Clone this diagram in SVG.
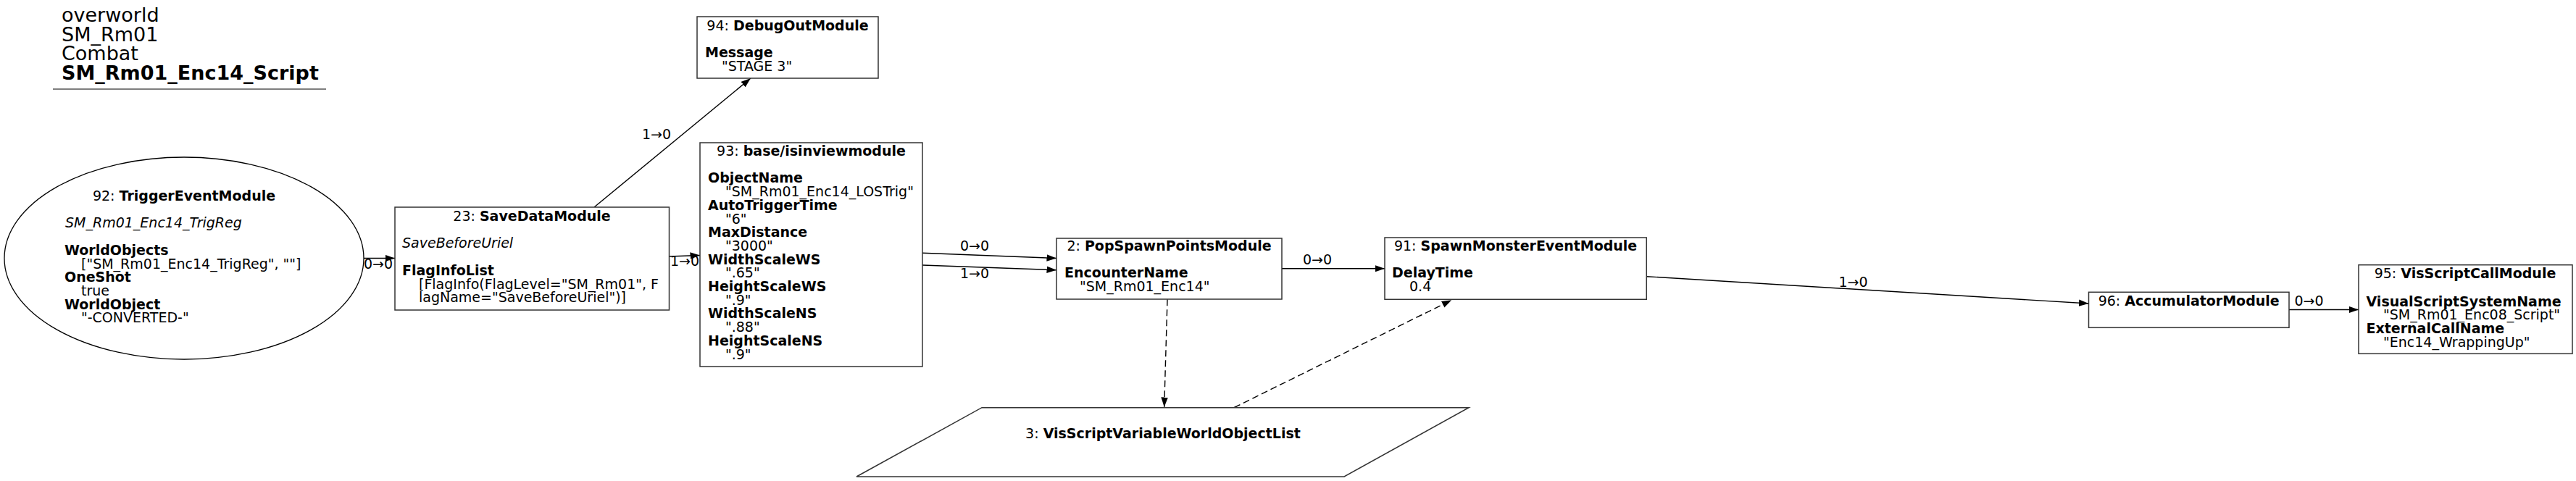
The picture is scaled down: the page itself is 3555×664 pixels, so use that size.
<svg xmlns="http://www.w3.org/2000/svg" width="3555" height="664" viewBox="0 0 3555 664">
<style>
text{font-family:"DejaVu Sans","Liberation Sans",sans-serif;font-size:19px;fill:#000}
.t{font-size:27px}
.b{font-weight:bold}
.i{font-style:italic}
.m{text-anchor:middle}
.box{fill:#fff;stroke:#333;stroke-width:1.5}
.ell{fill:#fff;stroke:#000;stroke-width:1.3}
.e{fill:none;stroke:#000;stroke-width:1.4}
.d{stroke-dasharray:9,5}
</style>
<defs>
<marker id="a" markerUnits="userSpaceOnUse" markerWidth="14" markerHeight="10" refX="13.5" refY="4.75" orient="auto">
<path d="M0,0 L13.5,4.75 L0,9.5 z" fill="#000"/>
</marker>
</defs>
<rect width="3555" height="664" fill="#fff"/>
<g id="title">
<text class="t" x="85" y="30">overworld</text>
<text class="t" x="85" y="57">SM_Rm01</text>
<text class="t" x="85" y="83">Combat</text>
<text class="t b" x="85" y="110">SM_Rm01_Enc14_Script</text>
<line x1="73" y1="123" x2="450" y2="123" stroke="#555" stroke-width="1.5"/>
</g>
<g id="connectors">
<line class="e" x1="502" y1="356.5" x2="545" y2="356.5" marker-end="url(#a)"/>
<text x="502" y="370.5">0→0</text>
<line class="e" x1="820" y1="286" x2="1036" y2="108" marker-end="url(#a)"/>
<text x="886" y="192">1→0</text>
<line class="e" x1="923.5" y1="354" x2="966" y2="352.5" marker-end="url(#a)"/>
<text x="925" y="367">1→0</text>
<line class="e" x1="1273" y1="349.3" x2="1458" y2="356.5" marker-end="url(#a)"/>
<text x="1325" y="346">0→0</text>
<line class="e" x1="1273" y1="366" x2="1458" y2="372.7" marker-end="url(#a)"/>
<text x="1325" y="384">1→0</text>
<line class="e" x1="1769" y1="370.7" x2="1911" y2="370.7" marker-end="url(#a)"/>
<text x="1798" y="365">0→0</text>
<line class="e d" x1="1611" y1="413.3" x2="1606.7" y2="562" marker-end="url(#a)"/>
<line class="e d" x1="1703.3" y1="562.5" x2="2003.3" y2="414.3" marker-end="url(#a)"/>
<line class="e" x1="2272.3" y1="381.7" x2="2882.5" y2="419" marker-end="url(#a)"/>
<text x="2537.5" y="396">1→0</text>
<line class="e" x1="3159" y1="427.5" x2="3255" y2="427.5" marker-end="url(#a)"/>
<text x="3166.5" y="421.7">0→0</text>
</g>
<g id="n92">
<ellipse class="ell" cx="254" cy="356.5" rx="248" ry="139.5"/>
<text class="m" x="254" y="277">92: <tspan class="b">TriggerEventModule</tspan></text>
<text class="i" x="90" y="314.4">SM_Rm01_Enc14_TrigReg</text>
<text class="b" x="89" y="351.8">WorldObjects</text>
<text x="112" y="370.5">["SM_Rm01_Enc14_TrigReg", ""]</text>
<text class="b" x="89" y="389.2">OneShot</text>
<text x="112" y="407.9">true</text>
<text class="b" x="89" y="426.6">WorldObject</text>
<text x="112" y="445.3">"-CONVERTED-"</text>
</g>
<g id="n23">
<rect class="box" x="545" y="286" width="378.5" height="142"/>
<text class="m" x="734" y="305">23: <tspan class="b">SaveDataModule</tspan></text>
<text class="i" x="555" y="342.4">SaveBeforeUriel</text>
<text class="b" x="555" y="379.8">FlagInfoList</text>
<text x="578" y="398.5">[FlagInfo(FlagLevel="SM_Rm01", F</text>
<text x="578" y="417.2">lagName="SaveBeforeUriel")]</text>
</g>
<g id="n94">
<rect class="box" x="962" y="23" width="250" height="85"/>
<text class="m" x="1087" y="42">94: <tspan class="b">DebugOutModule</tspan></text>
<text class="b" x="973" y="79.4">Message</text>
<text x="996" y="98">"STAGE 3"</text>
</g>
<g id="n93">
<rect class="box" x="966" y="197" width="307" height="309"/>
<text class="m" x="1119.5" y="215">93: <tspan class="b">base/isinviewmodule</tspan></text>
<text class="b" x="977" y="252.4">ObjectName</text>
<text x="1001" y="271.1">"SM_Rm01_Enc14_LOSTrig"</text>
<text class="b" x="977" y="289.8">AutoTriggerTime</text>
<text x="1001" y="308.5">"6"</text>
<text class="b" x="977" y="327.2">MaxDistance</text>
<text x="1001" y="345.9">"3000"</text>
<text class="b" x="977" y="364.6">WidthScaleWS</text>
<text x="1001" y="383.3">".65"</text>
<text class="b" x="977" y="402">HeightScaleWS</text>
<text x="1001" y="420.7">".9"</text>
<text class="b" x="977" y="439.4">WidthScaleNS</text>
<text x="1001" y="458.1">".88"</text>
<text class="b" x="977" y="476.8">HeightScaleNS</text>
<text x="1001" y="495.5">".9"</text>
</g>
<g id="n2">
<rect class="box" x="1458" y="329" width="311" height="84"/>
<text class="m" x="1613.5" y="346">2: <tspan class="b">PopSpawnPointsModule</tspan></text>
<text class="b" x="1469" y="383.4">EncounterName</text>
<text x="1490" y="402">"SM_Rm01_Enc14"</text>
</g>
<g id="n91">
<rect class="box" x="1911" y="328" width="361.3" height="85.3"/>
<text class="m" x="2091.6" y="346">91: <tspan class="b">SpawnMonsterEventModule</tspan></text>
<text class="b" x="1921" y="383.4">DelayTime</text>
<text x="1945" y="402">0.4</text>
</g>
<g id="n3">
<polygon class="box" points="1355,562.7 2027,562.7 1855,658 1182,658"/>
<text class="m" x="1605" y="605">3: <tspan class="b">VisScriptVariableWorldObjectList</tspan></text>
</g>
<g id="n96">
<rect class="box" x="2882.5" y="403.3" width="276.5" height="49"/>
<text class="m" x="3020.7" y="421.7">96: <tspan class="b">AccumulatorModule</tspan></text>
</g>
<g id="n95">
<rect class="box" x="3255" y="365.7" width="295" height="122.6"/>
<text class="m" x="3402" y="384.3">95: <tspan class="b">VisScriptCallModule</tspan></text>
<text class="b" x="3265.5" y="422.7">VisualScriptSystemName</text>
<text x="3289" y="441.4">"SM_Rm01_Enc08_Script"</text>
<text class="b" x="3265.5" y="460">ExternalCallName</text>
<text x="3289" y="478.7">"Enc14_WrappingUp"</text>
</g>
</svg>
